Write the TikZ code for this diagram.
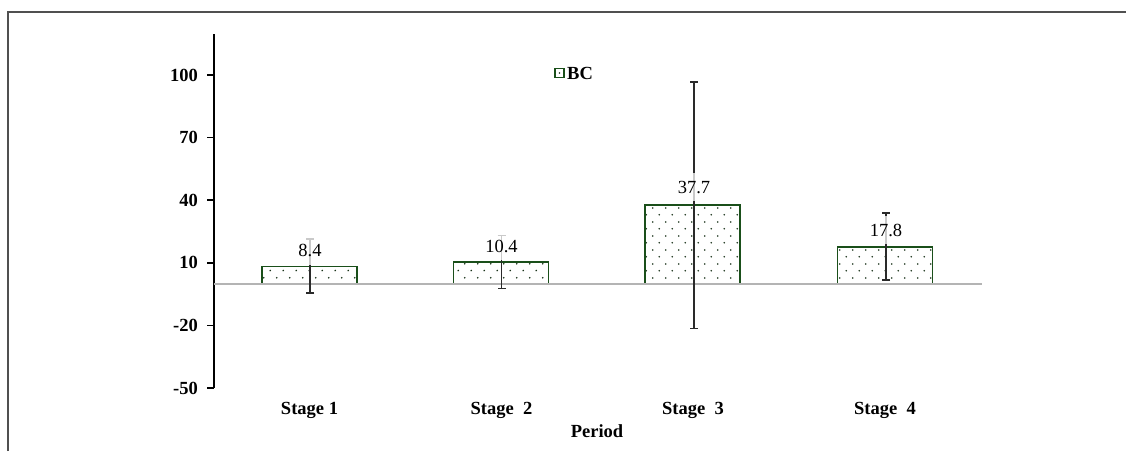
\documentclass[tikz,border=0pt]{standalone}
\usepackage{fontspec}
\setmainfont{Liberation Serif}
\usetikzlibrary{arrows.meta,patterns}
\pgfdeclarepatternformonly{bcdots}{\pgfpointorigin}{\pgfpoint{13.4pt}{13.6pt}}{\pgfpoint{13.4pt}{13.6pt}}{%
  \pgfpathcircle{\pgfpoint{3.35pt}{3.4pt}}{0.9pt}%
  \pgfpathcircle{\pgfpoint{10.05pt}{10.2pt}}{0.9pt}%
  \pgfusepath{fill}}
\definecolor{bargreen}{HTML}{1A4F1A}
\definecolor{dotcol}{HTML}{1A331A}
\definecolor{framegray}{HTML}{505050}
\definecolor{zerogray}{HTML}{B4B4B4}
\definecolor{errgray}{HTML}{2A2A2A}
\tikzset{
  txt/.style={font=\fontsize{18.5}{20}\selectfont, inner sep=0pt},
  btxt/.style={txt, font=\fontsize{18.5}{20}\selectfont\bfseries},
  barbox/.style={draw=bargreen, line width=1.8pt, pattern=bcdots, pattern color=dotcol,
    minimum width=95pt, anchor=south, inner sep=0pt, outer sep=0pt},
  errbar/.style={draw=errgray, line width=1.5pt, {Bar[width=8pt,line width=1.5pt]}-{Bar[width=8pt,line width=1.5pt]}},
  vallabel/.style={txt, fill=white, fill opacity=0.75, text opacity=1, inner xsep=3pt, inner ysep=8pt},
}
\begin{document}
\begin{tikzpicture}[x=1pt,y=-1pt]
\useasboundingbox (0,0) rectangle (1126,451);
% frame
\coordinate (fl) at (8,451);
\coordinate (ftl) at (8,12);
\coordinate (ftr) at (1126,12);
\draw[framegray, line width=1.2pt] (fl) -- (ftl) -- (ftr);
% axis
\coordinate (ax0) at (214,34);
\coordinate (ax1) at (214,388);
\draw[black, line width=2pt] (ax0) -- (ax1);
\foreach \v/\yy in {100/75,70/137.6,40/200.2,10/262.8,-20/325.4,-50/388}{
  \draw[black, line width=1.5pt] (207,\yy) -- (214,\yy);
  \node[btxt, anchor=east] (t\v) at (198,\yy) {\v};
}
% bars
\node[barbox, minimum height=17.5pt] (b1) at (309.5,284) {};
\node[barbox, minimum height=21.7pt] (b2) at (501,284) {};
\node[barbox, minimum height=78.7pt] (b3) at (692.5,284) {};
\node[barbox, minimum height=37.1pt] (b4) at (885,284) {};
% zero line
\coordinate (z0) at (214,284);
\coordinate (z1) at (982,284);
\draw[zerogray, line width=1.3pt] (z0) -- (z1);
% error bars
\coordinate (e1t) at (310,238); \coordinate (e1b) at (310,293.5);
\coordinate (e2t) at (501.5,234.5); \coordinate (e2b) at (501.5,289);
\coordinate (e3t) at (694,81); \coordinate (e3b) at (694,329);
\coordinate (e4t) at (886,212); \coordinate (e4b) at (886,280.5);
\draw[errbar] (e1b) -- (e1t);
\draw[errbar] (e2b) -- (e2t);
\draw[errbar] (e3b) -- (e3t);
\draw[errbar] (e4b) -- (e4t);
% value labels
\node[vallabel] (l1) at (310,250.5) {8.4};
\node[vallabel] (l2) at (501.5,246) {10.4};
\node[vallabel] (l3) at (694,187) {37.7};
\node[vallabel] (l4) at (886,230) {17.8};
% legend
\node[draw=bargreen, line width=1.3pt, minimum size=9pt, inner sep=0pt] (lgbox) at (559.5,73) {};
\fill[dotcol] (lgbox.center) circle (0.9pt);
\node[btxt, anchor=west] (lgtext) at (567,73) {BC};
% category labels
\node[btxt] (c1) at (309.5,410) {Stage 1};
\node[btxt] (c2) at (501.5,410) {Stage\ \ 2};
\node[btxt] (c3) at (693,410) {Stage\ \ 3};
\node[btxt] (c4) at (885,410) {Stage\ \ 4};
\node[btxt] (xlab) at (597,431) {Period};
\end{tikzpicture}
\end{document}
